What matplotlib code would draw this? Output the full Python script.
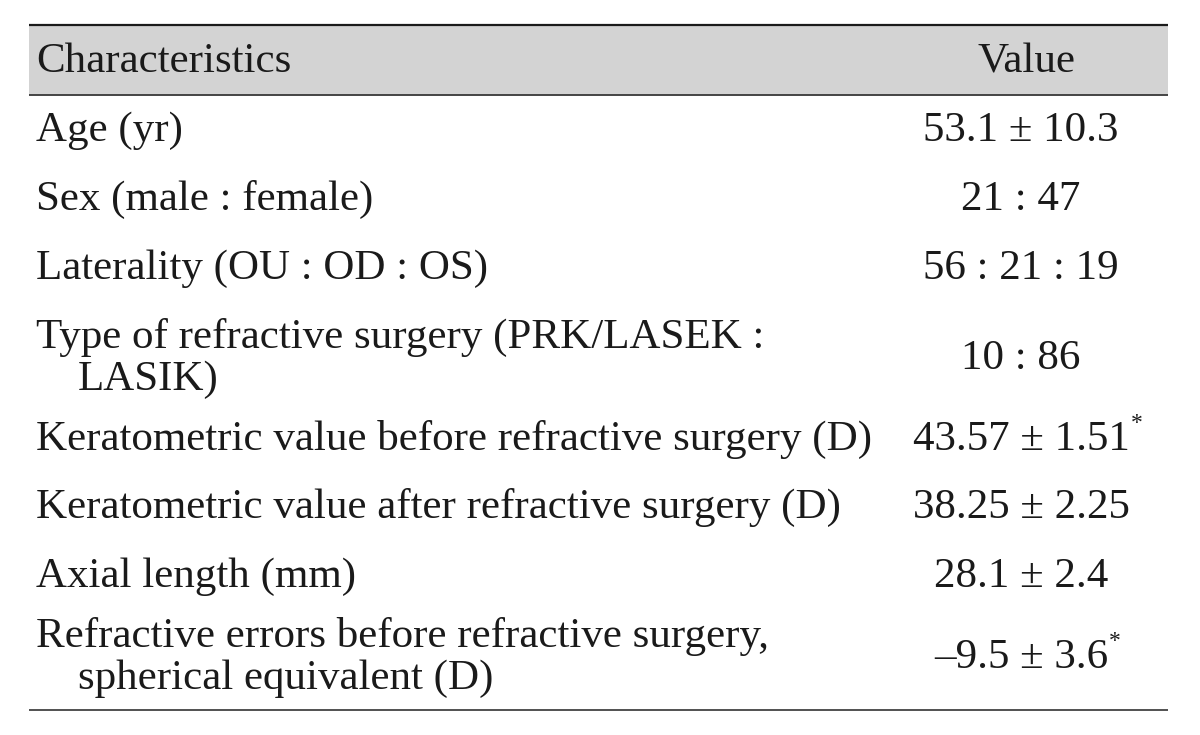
import matplotlib
matplotlib.use("Agg")
from matplotlib import pyplot as plt

# ============== TABLE CONTENT ===================

header = ["Characteristics", "Value"]

characteristics = [
    ["Age (yr)"],
    ["Sex (male : female)"],
    ["Laterality (OU : OD : OS)"],
    ["Type of refractive surgery (PRK/LASEK :", "LASIK)"],
    ["Keratometric value before refractive surgery (D)"],
    ["Keratometric value after refractive surgery (D)"],
    ["Axial length (mm)"],
    ["Refractive errors before refractive surgery,", "spherical equivalent (D)"],
]

values = [
    "53.1 \u00b1 10.3",
    "21 : 47",
    "56 : 21 : 19",
    "10 : 86",
    "43.57 \u00b1 1.51",
    "38.25 \u00b1 2.25",
    "28.1 \u00b1 2.4",
    "\u20139.5 \u00b1 3.6",
]

# rows marked with a superscript asterisk
starred = [False, False, False, False, True, False, False, True]

# ============== LAYOUT (pixels, y down) ===================

W, H = 1200, 735
left, right = 29, 1168
text_x, indent_x = 36, 78
value_x = 1021
row_baselines = [141, 210, 279, 348, 450, 518, 587, 647]
line_gap = 42
font = "Liberation Serif"
fs = 31

fig = plt.figure(figsize=(W / 100, H / 100), dpi=100)
ax = fig.add_axes([0, 0, 1, 1])
ax.set_xlim(0, W)
ax.set_ylim(H, 0)
ax.axis("off")

# header band
ax.fill_between([left, right], 25, 95, color="#d3d3d3", lw=0)
ax.plot([left, right], [25, 25], color="#1a1a1a", lw=1.6, solid_capstyle="butt")
ax.plot([left, right], [95, 95], color="#444444", lw=1.4, solid_capstyle="butt")
ax.text(text_x, 72, header[0], fontsize=fs, family=font, color="#1a1a1a", va="baseline")
ax.text(1027, 72, header[1], fontsize=fs, family=font, color="#1a1a1a", va="baseline", ha="center")

fig.canvas.draw()
renderer = fig.canvas.get_renderer()

for i, lines in enumerate(characteristics):
    y = row_baselines[i]
    for j, line in enumerate(lines):
        x = text_x if j == 0 else indent_x
        ax.text(x, y + j * line_gap, line, fontsize=fs, family=font, color="#1a1a1a", va="baseline")
    vy = y + (len(lines) - 1) * line_gap / 2
    t = ax.text(value_x, vy, values[i], fontsize=fs, family=font, color="#1a1a1a",
                va="baseline", ha="center")
    if starred[i]:
        bb = t.get_window_extent(renderer)
        x_end = ax.transData.inverted().transform((bb.x1, bb.y0))[0]
        ax.text(x_end + 1, vy - 21, "*", fontsize=17, family=font, color="#1a1a1a", va="baseline")

# bottom rule
ax.plot([left, right], [710, 710], color="#333333", lw=1.2, solid_capstyle="butt")

fig.savefig("out.png", dpi=100)
